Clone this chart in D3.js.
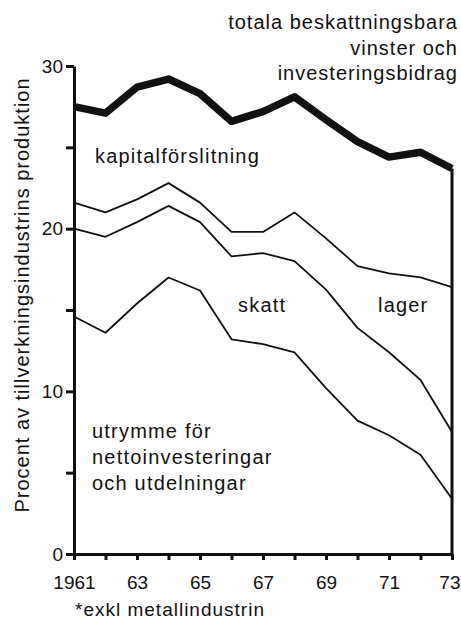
<!DOCTYPE html>
<html>
<head>
<meta charset="utf-8">
<script src="https://cdn.jsdelivr.net/npm/d3@7"></script>
<style>
  body { margin: 0; background: #fff; }
  text { font-family: "Liberation Sans", Arial, sans-serif; fill: #111; }
</style>
</head>
<body>
<script>
// Data (percent of manufacturing output)
var years = [1961, 1962, 1963, 1964, 1965, 1966, 1967, 1968, 1969, 1970, 1971, 1972, 1973];
var total = [27.5, 27.1, 28.7, 29.2, 28.3, 26.6, 27.2, 28.1, 26.7, 25.35, 24.4, 24.7, 23.7]; // totala beskattningsbara vinster och investeringsbidrag
var lagerTop = [21.6, 21.0, 21.8, 22.8, 21.6, 19.8, 19.8, 21.0, 19.4, 17.7, 17.25, 17.0, 16.4];
var skattTop = [20.0, 19.5, 20.4, 21.4, 20.4, 18.3, 18.5, 18.0, 16.25, 13.9, 12.4, 10.7, 7.5];
var utrymme = [14.6, 13.6, 15.4, 17.0, 16.2, 13.2, 12.9, 12.4, 10.2, 8.2, 7.3, 6.1, 3.4];

var yTicks = [0, 5, 10, 15, 20, 25, 30];
var yTickLabels = {0: "0", 10: "10", 20: "20", 30: "30"};
var xTickLabels = {1961: "1961", 1963: "63", 1965: "65", 1967: "67", 1969: "69", 1971: "71", 1973: "73"};

var width = 461, height = 625;

var svg = d3.select("body").append("svg")
    .attr("width", width)
    .attr("height", height);

// Scales
var x = d3.scaleLinear().domain([1961, 1973]).range([74, 452]);
var y = d3.scaleLinear().domain([0, 30]).range([554, 66]);

function series(vals) {
    return years.map(function(yr, i){ return {year: yr, v: vals[i]}; });
}

var line = d3.line()
    .x(function(d){ return x(d.year); })
    .y(function(d){ return y(d.v); });

// thin boundary lines
[lagerTop, skattTop, utrymme].forEach(function(vals){
    svg.append("path")
        .attr("d", line(series(vals)))
        .attr("fill", "none")
        .attr("stroke", "#111")
        .attr("stroke-width", 1.8)
        .attr("stroke-linejoin", "round");
});

// thick total line
svg.append("path")
    .attr("d", line(series(total)))
    .attr("fill", "none")
    .attr("stroke", "#111")
    .attr("stroke-width", 7.5)
    .attr("stroke-linejoin", "round");

// right edge at 1973, from the total line down to zero
svg.append("line")
    .attr("x1", x(1973)).attr("x2", x(1973))
    .attr("y1", y(total[total.length - 1])).attr("y2", y(0))
    .attr("stroke", "#111")
    .attr("stroke-width", 3);

// Axes
var yAxis = d3.axisLeft(y)
    .tickValues(yTicks)
    .tickFormat(function(d){ return yTickLabels[d] || ""; })
    .tickSizeInner(8)
    .tickSizeOuter(0)
    .tickPadding(3);

var xAxis = d3.axisBottom(x)
    .tickValues(years)
    .tickFormat(function(d){ return xTickLabels[d] || ""; })
    .tickSizeInner(6)
    .tickSizeOuter(0)
    .tickPadding(16);

var gy = svg.append("g").attr("transform", "translate(" + x(1961) + ",0)").call(yAxis);
var gx = svg.append("g").attr("transform", "translate(0," + y(0) + ")").call(xAxis);

[gy, gx].forEach(function(g){
    g.select(".domain").attr("stroke", "#111").attr("stroke-width", 3);
    g.selectAll(".tick line").attr("stroke", "#111").attr("stroke-width", 3);
    g.selectAll(".tick text")
        .attr("font-size", 19)
        .style("font-family", "Liberation Sans, Arial, sans-serif")
        .attr("fill", "#111");
});

// last year label sits against the right edge
gx.selectAll(".tick text")
    .filter(function(d){ return d === 1973; })
    .attr("text-anchor", "end")
    .attr("x", 8);

// Axis title
svg.append("text")
    .attr("transform", "translate(29,295) rotate(-90)")
    .attr("text-anchor", "middle")
    .attr("font-size", 20)
    .attr("letter-spacing", 1)
    .text("Procent av tillverkningsindustrins produktion");

// Title block top right
var topLines = ["totala beskattningsbara", "vinster och", "investeringsbidrag"];
topLines.forEach(function(t, i){
    svg.append("text")
        .attr("x", 458)
        .attr("y", 29 + i * 25.5)
        .attr("text-anchor", "end")
        .attr("font-size", 20)
        .attr("letter-spacing", 1)
        .text(t);
});

// Region labels
function label(t, lx, ly) {
    svg.append("text")
        .attr("x", lx)
        .attr("y", ly)
        .attr("font-size", 20)
        .attr("letter-spacing", 1.2)
        .text(t);
}
label("kapitalförslitning", 95, 163);
label("skatt", 238, 312);
label("lager", 378, 312);
label("utrymme för", 92, 438);
label("nettoinvesteringar", 92, 464);
label("och utdelningar", 92, 490);

// footnote
svg.append("text")
    .attr("x", 75)
    .attr("y", 616)
    .attr("font-size", 19)
    .attr("letter-spacing", 1)
    .text("*exkl metallindustrin");
</script>
</body>
</html>
